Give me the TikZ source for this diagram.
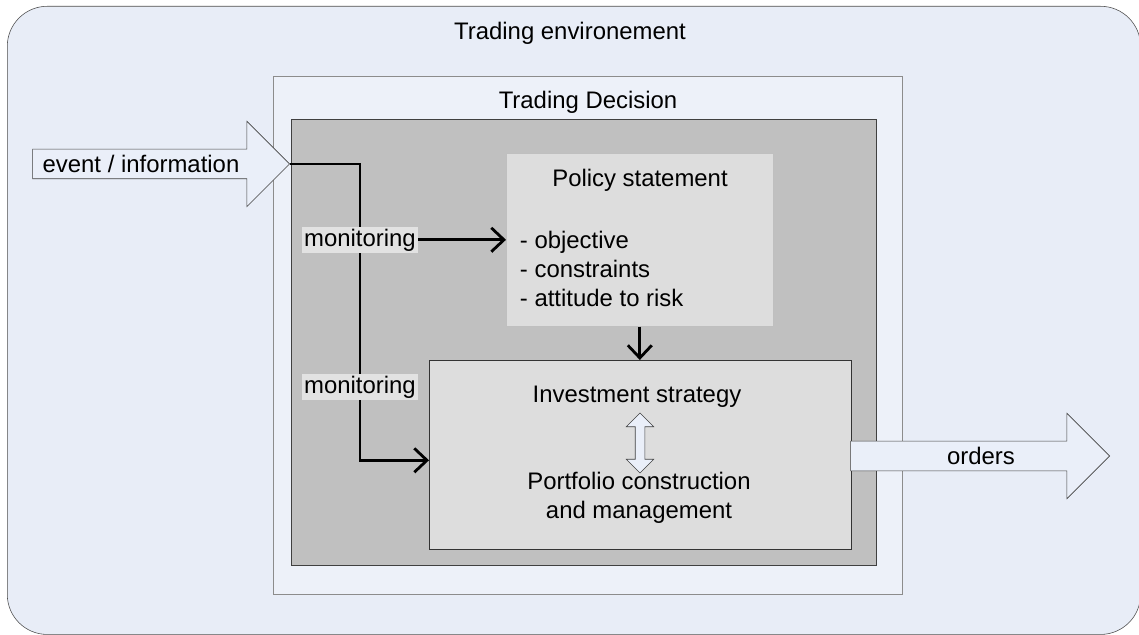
\documentclass[tikz,border=0pt]{standalone}
\usepackage{fontspec}
\setmainfont{Liberation Sans}
\usepackage{xcolor}
\usetikzlibrary{shapes,arrows.meta,positioning,calc}

\definecolor{envblue}{RGB}{232,237,247}
\definecolor{arrowblue}{RGB}{234,239,249}
\definecolor{coregray}{RGB}{192,192,192}
\definecolor{boxgray}{RGB}{221,221,221}
\definecolor{labelgray}{RGB}{226,226,226}

\tikzset{
    area/.style={anchor=north west, inner sep=0pt},
    bigarrow/.style={single arrow, draw=black!75, fill=arrowblue, anchor=tip,
        inner sep=0pt, text height=0.725cm, text depth=0pt,
        single arrow head extend=0.7cm},
    flow/.style={line width=2pt, -{Straight Barb[length=9pt,width=17pt,line width=2pt]}},
    monlabel/.style={fill=labelgray, inner sep=1.5pt}
}

\begin{document}
\begin{tikzpicture}[x=0.025cm, y=-0.025cm, font=\fontsize{17pt}{20.6pt}\selectfont]
    \useasboundingbox (0,0) rectangle (1139,635);

    % Areas
    \node (env) [area, draw=black!70, fill=envblue, rounded corners=1cm,
        minimum width=28.325cm, minimum height=15.7cm] at (7,6) {};
    \node (decision) [area, draw=black!45, fill=envblue!80!white,
        minimum width=15.725cm, minimum height=12.95cm] at (273,76) {};
    \node (core) [area, draw=black!75, fill=coregray,
        minimum width=14.625cm, minimum height=11.15cm] at (291,119) {};
    \node (policy) [area, draw=black!25, fill=boxgray,
        minimum width=6.675cm, minimum height=4.325cm] at (506,153) {};
    \node (invest) [area, draw=black!80, fill=boxgray,
        minimum width=10.55cm, minimum height=4.725cm] at (429,360) {};

    % Titles
    \node (envtitle) at (570,33) {Trading environement};
    \node (dectitle) at (588,102) {Trading Decision};
    \node (poltitle) at (640,180) {Policy statement};
    \node (politems) [anchor=west, align=left] at (515,269)
        {- objective\\- constraints\\- attitude to risk};
    \node (strategy) at (637,397) {Investment strategy};
    \node (portfolio) [align=center] at (639,498)
        {Portfolio construction\\and management};

    % In and out
    \node (evt) [bigarrow, minimum height=6.425cm] at (290,164) {};
    \node (evttext) at (141,164) {event / information};
    \node (ord) [bigarrow, minimum height=6.475cm] at (1110,456) {};
    \node (ordtext) at (981,456) {orders};

    % Flows
    \coordinate (split) at (360,164);
    \draw [flow] (evt.tip) -- (split) |- ($(invest.west)+(0,5.5)$);
    \draw [flow] (split |- policy.west) -- (policy.west);
    \draw [flow] (policy.south) -- (policy.south |- invest.north);
    \node (link) [double arrow, draw=black!75, fill=arrowblue, rotate=90,
        inner sep=0pt, text height=0.225cm, text depth=0pt,
        minimum height=1.5cm, double arrow head extend=0.225cm] at (640,443) {};

    \foreach \y/\name in {240/monA, 387/monB}
        \node (\name) [monlabel] at (360,\y) {monitoring};
\end{tikzpicture}
\end{document}
